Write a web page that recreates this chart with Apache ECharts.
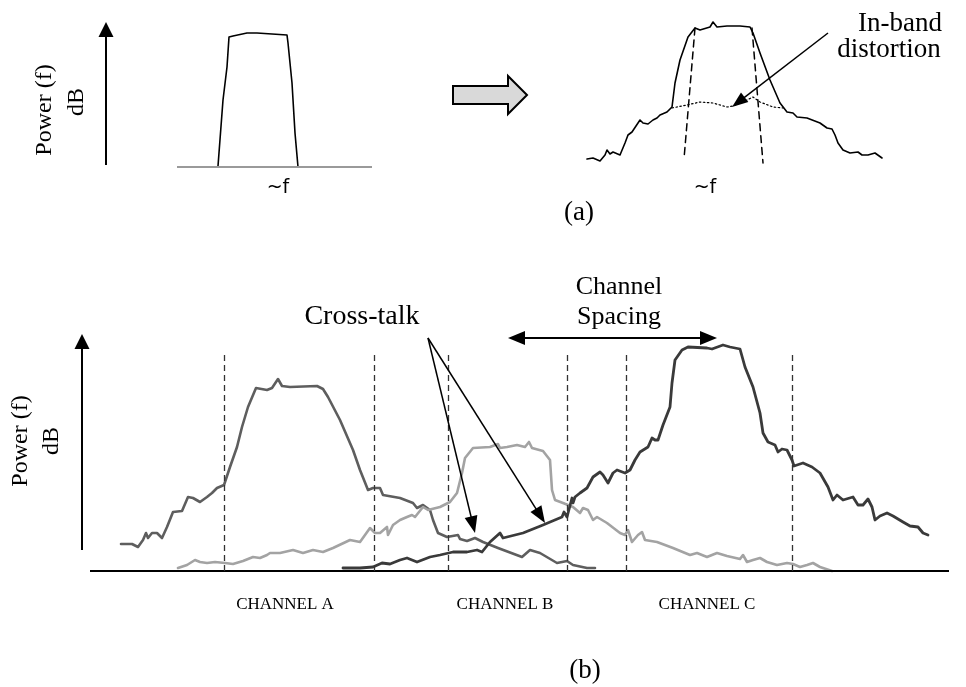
<!DOCTYPE html>
<html><head><meta charset="utf-8">
<script src="https://cdn.jsdelivr.net/npm/echarts@6/dist/echarts.min.js"></script>
<style>html,body{margin:0;padding:0;background:#fff}#c{width:966px;height:687px}</style>
</head><body><div id="c"></div>
<script>
// ---------- DATA (frequency offset, relative power level) ----------
// Panel (a), left: clean input spectrum
const inputSpectrum = [[41,1],[46,67],[50,100],[52,130],[56,131],[70,134],[80,134],[110,132],[111,124],[115,84],[118,34],[121,0]];
// Panel (a), right: distorted output spectrum
const outputSpectrum = [[1,9],[7,10],[14,7],[19,13],[21,18],[24,14],[27,16],[34,13],[39,25],[42,33],[46,36],[54,48],[57,45],[62,44],[67,48],[71,50],[74,53],[81,56],[86,61],[89,85],[94,108],[102,131],[109,140],[114,138],[124,141],[127,146],[131,141],[141,142],[154,142],[164,141],[167,135],[174,115],[184,88],[194,65],[201,56],[207,55],[211,51],[221,50],[234,45],[241,40],[246,39],[249,33],[252,25],[257,18],[264,15],[272,16],[276,13],[282,13],[289,15],[296,10]];
const originalEdgeLeft = [[109,140],[98,9]];
const originalEdgeRight = [[166,140],[177,5]];
const inbandDistortion = [[86,60],[101,63],[114,66],[127,65],[141,61],[147,62],[161,68],[167,71],[174,66],[187,61],[197,60]];
// Panel (b): three neighbouring channels
const channelA = [[31,27],[42,27],[48,24],[53,31],[56,38],[58,33],[62,38],[67,38],[72,33],[77,44],[83,59],[92,60],[98,74],[103,73],[110,69],[117,74],[122,78],[127,83],[134,86],[140,104],[147,124],[152,144],[158,164],[166,183],[177,181],[182,183],[188,192],[192,185],[200,184],[227,185],[233,182],[238,174],[250,151],[263,121],[270,101],[278,81],[283,83],[290,83],[293,76],[310,73],[323,68],[327,63],[333,66],[340,61],[343,51],[348,38],[357,34],[368,36],[370,32],[377,30],[385,33],[393,29],[408,23],[432,14],[440,21],[450,18],[467,8],[477,10],[483,6],[497,3],[505,3]];
const channelB = [[88,3],[97,6],[105,11],[110,9],[117,8],[125,9],[135,8],[143,7],[153,10],[163,14],[170,13],[177,16],[180,18],[190,18],[203,21],[213,18],[223,21],[233,19],[243,23],[260,31],[270,29],[280,43],[285,38],[290,38],[297,44],[298,36],[303,46],[310,51],[317,54],[322,56],[325,54],[333,64],[338,61],[350,64],[360,69],[367,78],[372,98],[375,113],[383,123],[400,124],[408,127],[410,123],[417,124],[427,126],[435,124],[439,129],[442,123],[453,120],[460,111],[462,81],[465,71],[473,68],[483,64],[490,58],[493,63],[498,61],[503,51],[507,54],[517,48],[530,38],[535,36],[538,41],[542,29],[548,36],[552,39],[555,31],[567,29],[583,23],[600,16],[607,18],[617,14],[627,18],[637,15],[650,12],[653,16],[657,9],[663,11],[670,13],[677,9],[687,6],[697,8],[703,7],[710,4],[717,6],[723,8],[730,4],[742,0]];
const channelC = [[253,3],[270,3],[283,4],[292,8],[300,7],[310,11],[317,13],[327,9],[340,14],[350,16],[363,19],[377,19],[387,21],[392,19],[400,29],[410,38],[413,33],[415,31],[433,38],[453,46],[472,54],[474,59],[477,54],[482,73],[483,68],[485,74],[490,78],[497,83],[503,94],[510,99],[513,96],[518,88],[523,98],[527,101],[535,98],[540,101],[545,111],[550,119],[558,124],[562,133],[565,131],[568,131],[573,146],[580,164],[582,188],[585,211],[592,221],[598,224],[617,223],[622,222],[633,226],[640,224],[650,222],[655,204],[663,184],[670,158],[673,138],[678,129],[685,126],[688,119],[692,122],[697,121],[702,111],[704,105],[713,108],[722,104],[730,98],[738,84],[743,71],[747,76],[753,71],[763,74],[768,66],[773,66],[778,72],[782,64],[785,51],[790,55],[797,58],[803,55],[813,49],[820,45],[828,44],[833,38],[838,36]];
const channelEdges = [134, 284, 358, 477, 536, 702];
const channelEdgeTop = 217;
const channelNames = ['CHANNEL A', 'CHANNEL B', 'CHANNEL C'];
const channelCenters = [195, 415, 617];

// ---------- helpers ----------
const serif = '"Liberation Serif","Times New Roman",serif';
function seg(p, q, style, opt) {
  opt = opt || {};
  const dx = q[0]-p[0], dy = q[1]-p[1], L = Math.hypot(dx, dy), ux = dx/L, uy = dy/L;
  const sz = opt.size || [1,1];
  let a = p.slice(), b = q.slice();
  if (opt.end) b = [q[0]-ux*sz[1]/2, q[1]-uy*sz[1]/2];
  if (opt.start) a = [p[0]+ux*sz[1]/2, p[1]+uy*sz[1]/2];
  return [
    {coord: a, symbol: opt.start ? 'triangle' : 'none', symbolSize: sz, lineStyle: style},
    {coord: b, symbol: opt.end ? 'triangle' : 'none', symbolSize: sz}
  ];
}
function ml(data) {
  return {silent: true, animation: false, symbol: ['none','none'], label: {show: false},
    emphasis: {disabled: true}, lineStyle: {color: '#000', type: 'solid', width: 1.5}, data: data};
}
function curve(idx, data, color, width, type, markLine) {
  const s = {type: 'line', xAxisIndex: idx, yAxisIndex: idx, data: data, showSymbol: false, symbol: 'none',
    silent: true, animation: false, clip: false,
    lineStyle: {color: color, width: width, type: type || 'solid', join: 'round', cap: 'round'}};
  if (markLine) s.markLine = markLine;
  return s;
}
const blk = {color: '#000', width: 2, type: 'solid'};
const arrowHead = [15, 15];

const option = {
  backgroundColor: '#fff',
  animation: false,
  grid: [
    {left: 100, top: 20, width: 272, height: 147},
    {left: 586, top: 20, width: 296, height: 148},
    {left: 80, top: 334, width: 869, height: 237}
  ],
  xAxis: [
    {gridIndex: 0, type: 'value', min: -77, max: 195, show: false},
    {gridIndex: 1, type: 'value', min: 0, max: 296, show: false},
    {gridIndex: 2, type: 'value', min: -10, max: 859, show: false}
  ],
  yAxis: [
    {gridIndex: 0, type: 'value', min: 0, max: 147, show: false},
    {gridIndex: 1, type: 'value', min: 0, max: 148, show: false},
    {gridIndex: 2, type: 'value', min: 0, max: 237, show: false}
  ],
  series: [
    curve(0, inputSpectrum, '#000', 1.6, 'solid', ml([
      seg([0,0],[195,0], {color:'#9a9a9a', width:2}),
      seg([-71,2],[-71,145], blk, {end:true, size:arrowHead})
    ])),
    curve(1, outputSpectrum, '#000', 1.6, 'solid', ml([
      seg([-4,0],[290,0], {color:'#9a9a9a', width:2}),
      seg([242,135],[146,61], {color:'#000', width:1.5}, {end:true, size:[12,16]})
    ])),
    curve(1, originalEdgeLeft, '#000', 1.5, [7,5]),
    curve(1, originalEdgeRight, '#000', 1.5, [7,5]),
    curve(1, inbandDistortion, '#000', 1.2, [1.5,2.5]),
    curve(2, channelA, '#5e5e5e', 2.6, 'solid', ml(
      [seg([0,0],[859,0], blk), seg([-8,21],[-8,237], blk, {end:true, size:arrowHead})]
        .concat(channelEdges.map(x => seg([x,0],[x,channelEdgeTop], {color:'#333', width:1.3, type:[6,4]})))
    )),
    curve(2, channelB, '#a3a3a3', 2.6),
    curve(2, channelC, '#3a3a3a', 2.8, 'solid', ml([
      seg([418,233],[627,233], {color:'#000', width:2}, {start:true, end:true, size:[14,17]}),
      seg([338,233],[385,38], {color:'#000', width:1.5}, {end:true, size:[13,17]}),
      seg([338,233],[455,48], {color:'#000', width:1.5}, {end:true, size:[13,17]})
    ]))
  ]
};

const chart = echarts.init(document.getElementById('c'), null, {renderer: 'canvas'});
chart.setOption(option);

function txt(text, x, y, font, rot, align) {
  return {type: 'text', x: x, y: y, rotation: rot || 0, silent: true, z: 10,
    style: {text: text, font: font, fill: '#000', align: align || 'center', verticalAlign: 'middle',
            textAlign: align || 'center', textVerticalAlign: 'middle'}};
}
const graphics = [
  {type: 'polygon', silent: true, z: 5,
   shape: {points: [[453,86],[508,86],[508,76],[527,95],[508,114],[508,104],[453,104]]},
   style: {fill: '#d9d9d9', stroke: '#000', lineWidth: 2}},
  txt('Power (f)', 45, 110, '24px ' + serif, Math.PI/2),
  txt('dB', 77, 102, '24px ' + serif, Math.PI/2),
  txt('Power (f)', 21, 441, '24px ' + serif, Math.PI/2),
  txt('dB', 52, 441, '24px ' + serif, Math.PI/2),
  txt('~f', 278, 188, '19px "DejaVu Sans"'),
  txt('~f', 705, 188, '19px "DejaVu Sans"'),
  txt('(a)', 579, 213, '27px ' + serif),
  txt('In-band', 900, 24, '27px ' + serif),
  txt('distortion', 889, 50, '27px ' + serif),
  txt('Cross-talk', 362, 317, '28px ' + serif),
  txt('Channel', 619, 287, '26px ' + serif),
  txt('Spacing', 619, 317, '26px ' + serif),
  txt('(b)', 585, 671, '27px ' + serif)
];
channelNames.forEach((name, i) => {
  const p = chart.convertToPixel({xAxisIndex: 2, yAxisIndex: 2}, [channelCenters[i], 0]);
  graphics.push(txt(name, p[0], p[1] + 34, '17px ' + serif));
});
chart.setOption({graphic: graphics});
</script></body></html>
